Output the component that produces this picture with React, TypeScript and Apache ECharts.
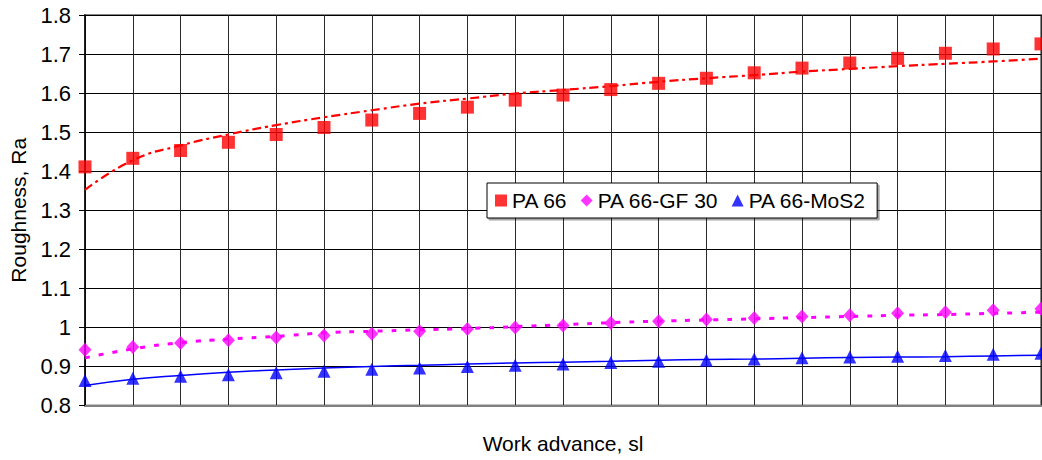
import React, { useEffect, useRef } from "react";
import * as echarts from "echarts";

const categories = ["1","2","3","4","5","6","7","8","9","10","11","12","13","14","15","16","17","18","19","20","21"];

const pa66 = [1.411, 1.433, 1.453, 1.474, 1.494, 1.512, 1.531, 1.548, 1.564, 1.582, 1.595, 1.609, 1.625, 1.638, 1.652, 1.664, 1.677, 1.689, 1.702, 1.713, 1.726];
const pa66Trend = [1.352, 1.428, 1.466, 1.494, 1.518, 1.538, 1.556, 1.573, 1.586, 1.599, 1.608, 1.618, 1.629, 1.638, 1.646, 1.655, 1.662, 1.669, 1.675, 1.681, 1.688];

const gf30 = [0.943, 0.950, 0.960, 0.967, 0.974, 0.979, 0.984, 0.990, 0.996, 1.000, 1.005, 1.011, 1.016, 1.020, 1.024, 1.028, 1.031, 1.036, 1.039, 1.044, 1.048];
const gf30Trend = [0.922, 0.945, 0.961, 0.970, 0.977, 0.986, 0.990, 0.994, 0.997, 1.002, 1.007, 1.012, 1.016, 1.019, 1.022, 1.025, 1.028, 1.031, 1.033, 1.036, 1.039];

const mos2 = [0.864, 0.870, 0.875, 0.879, 0.884, 0.888, 0.893, 0.896, 0.900, 0.903, 0.906, 0.910, 0.913, 0.916, 0.919, 0.922, 0.924, 0.926, 0.928, 0.931, 0.934];
const mos2Trend = [0.851, 0.867, 0.877, 0.885, 0.891, 0.896, 0.900, 0.903, 0.906, 0.909, 0.911, 0.913, 0.916, 0.918, 0.919, 0.921, 0.923, 0.924, 0.925, 0.927, 0.929];

const seriesNames = ["PA 66", "PA 66-GF 30", "PA 66-MoS2"];
const FONT = "'Liberation Sans', Arial, Helvetica, sans-serif";

export default function App() {
  const ref = useRef<HTMLDivElement>(null);
  useEffect(() => {
    if (!ref.current) return;
    const chart = echarts.init(ref.current, undefined, { renderer: "svg" });
    chart.setOption({
      animation: false,
      backgroundColor: "#ffffff",
      textStyle: { fontFamily: FONT },
      grid: {
        left: 84,
        right: 1,
        top: 15,
        bottom: 54.5,
        show: true,
        borderColor: "#888888",
        borderWidth: 2,
        backgroundColor: "transparent",
      },
      legend: {
        left: 487,
        top: 183,
        orient: "horizontal",
        padding: [7, 11, 7, 8],
        itemGap: 13,
        itemWidth: 12,
        itemHeight: 12,
        backgroundColor: "#ffffff",
        borderColor: "#000000",
        borderWidth: 1,
        shadowColor: "rgba(0,0,0,0.35)",
        shadowOffsetX: 2,
        shadowOffsetY: 2,
        shadowBlur: 0,
        textStyle: { fontSize: 21, color: "#000", fontFamily: FONT },
        data: [
          { name: seriesNames[0], icon: "rect" },
          { name: seriesNames[1], icon: "diamond" },
          { name: seriesNames[2], icon: "triangle" },
        ],
      },
      xAxis: {
        type: "category",
        data: categories,
        boundaryGap: false,
        name: "Work advance, sl",
        nameLocation: "middle",
        nameGap: 27,
        nameTextStyle: { fontSize: 21, color: "#000", fontFamily: FONT },
        axisLine: { show: true, lineStyle: { color: "#808080", width: 2 } },
        axisTick: { show: false },
        axisLabel: { show: false },
        splitLine: { show: true, lineStyle: { color: "#2a2a2a", width: 1 } },
      },
      yAxis: {
        type: "value",
        min: 0.8,
        max: 1.8,
        interval: 0.1,
        name: "Roughness, Ra",
        nameLocation: "middle",
        nameRotate: 90,
        nameGap: 56,
        nameTextStyle: { fontSize: 21, color: "#000", fontFamily: FONT },
        axisLine: { show: true, lineStyle: { color: "#000", width: 1.5 } },
        axisTick: { show: true, inside: false, length: 6, lineStyle: { color: "#000", width: 1 } },
        axisLabel: {
          margin: 14,
          fontSize: 22,
          color: "#000",
          fontFamily: FONT,
          formatter: (v: number) => String(Math.round(v * 10) / 10),
        },
        splitLine: { show: true, lineStyle: { color: "#000", width: 1 } },
      },
      series: [
        {
          name: "PA 66 trend",
          type: "line",
          data: pa66Trend,
          smooth: true,
          showSymbol: false,
          symbol: "none",
          lineStyle: { color: "#ff0000", width: 2.2, type: [9, 4, 3, 4] },
          z: 2,
        },
        {
          name: "PA 66-GF 30 trend",
          type: "line",
          data: gf30Trend,
          smooth: true,
          showSymbol: false,
          symbol: "none",
          lineStyle: { color: "#ff00ff", width: 3, type: [5, 9] },
          z: 2,
        },
        {
          name: "PA 66-MoS2 trend",
          type: "line",
          data: mos2Trend,
          smooth: true,
          showSymbol: false,
          symbol: "none",
          lineStyle: { color: "#0000ff", width: 1.5, type: "solid" },
          z: 2,
        },
        {
          name: seriesNames[0],
          type: "scatter",
          data: pa66,
          symbol: "rect",
          symbolSize: 13,
          itemStyle: { color: "#ff0000" },
          clip: false,
          z: 3,
        },
        {
          name: seriesNames[1],
          type: "scatter",
          data: gf30,
          symbol: "diamond",
          symbolSize: [13, 14],
          itemStyle: { color: "#ff00ff" },
          clip: false,
          z: 3,
        },
        {
          name: seriesNames[2],
          type: "scatter",
          data: mos2,
          symbol: "triangle",
          symbolSize: 13,
          itemStyle: { color: "#0000ff" },
          clip: false,
          z: 3,
        },
      ],
    });
    return () => chart.dispose();
  }, []);
  return (
    <div
      ref={ref}
      style={{ position: "fixed", left: 0, top: 0, width: 1042, height: 460, background: "#fff" }}
    />
  );
}
